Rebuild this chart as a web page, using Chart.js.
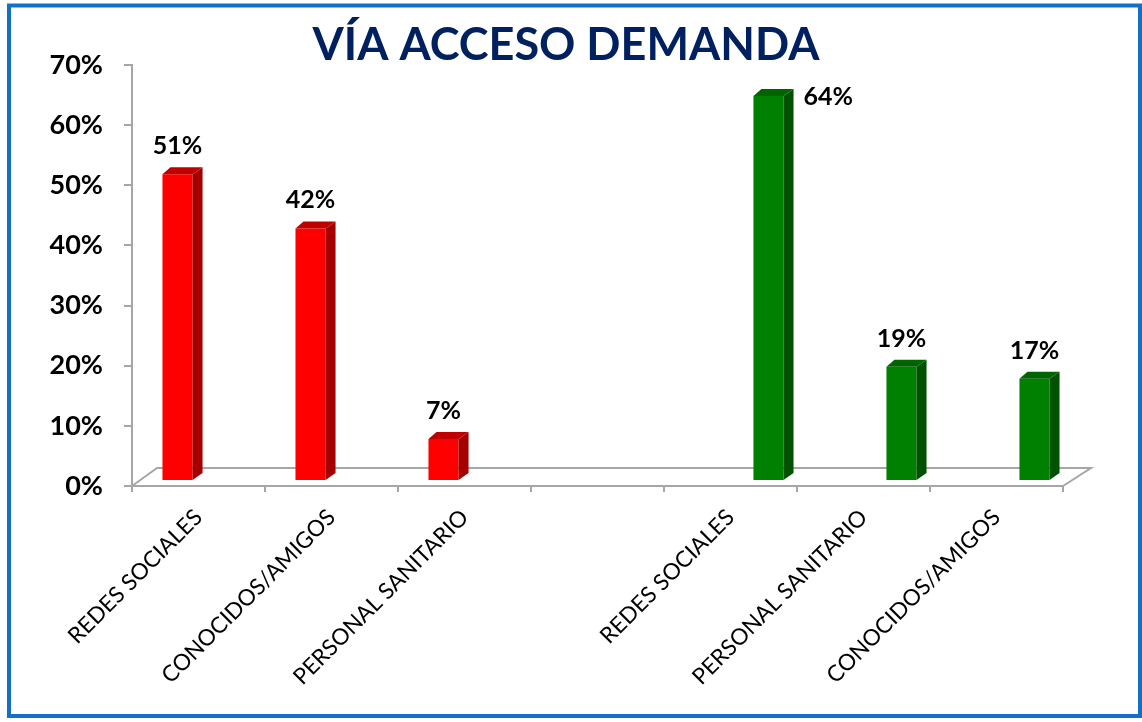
<!DOCTYPE html>
<html>
<head>
<meta charset="utf-8">
<script src="https://cdn.jsdelivr.net/npm/chart.js@4"></script>
<style>
  html, body { margin: 0; padding: 0; background: #fff; }
  #wrap { position: relative; width: 1142px; height: 722px; }
</style>
</head>
<body>
<div id="wrap"><canvas id="chart" width="1142" height="722"></canvas></div>
<script>
// Data
const categories = ["REDES SOCIALES", "CONOCIDOS/AMIGOS", "PERSONAL SANITARIO", "", "REDES SOCIALES", "PERSONAL SANITARIO", "CONOCIDOS/AMIGOS"];
const redValues = [0.51, 0.42, 0.07, null, null, null, null];
const greenValues = [null, null, null, null, 0.64, 0.19, 0.17];
const yTickValues = [0, 0.1, 0.2, 0.3, 0.4, 0.5, 0.6, 0.7];
const titleText = "VÍA ACCESO DEMANDA";

const AXIS_GRAY = "#A6A6A6";
const SHIFT_X = 8.5, SHIFT_Y = -5;   // bars sit a bit inside the floor
const DEPTH_X = 10, DEPTH_Y = 7;     // 3d depth of each bar

// Draws the floor, the 3d faces of bars, the value labels, title and frame
const fake3d = {
  id: "fake3d",
  beforeDatasetsDraw(chart) {
    const ctx = chart.ctx;
    const a = chart.chartArea;
    ctx.save();
    ctx.strokeStyle = AXIS_GRAY;
    ctx.lineWidth = 2;
    ctx.beginPath();
    ctx.moveTo(a.left, a.bottom);
    ctx.lineTo(a.left + 25, a.bottom - 18);
    ctx.lineTo(a.right + 28, a.bottom - 18);
    ctx.lineTo(a.right, a.bottom);
    ctx.stroke();
    ctx.restore();
    ctx.save();
    ctx.translate(SHIFT_X, SHIFT_Y);
  },
  afterDatasetsDraw(chart) {
    const ctx = chart.ctx;
    const a = chart.chartArea;
    chart.data.datasets.forEach((ds, i) => {
      const meta = chart.getDatasetMeta(i);
      meta.data.forEach((bar, j) => {
        const v = ds.data[j];
        if (v === null || v === undefined) return;
        const p = bar.getProps(["x", "y", "base", "width"], true);
        const l = p.x - p.width / 2, r = p.x + p.width / 2;
        // side face
        ctx.fillStyle = ds.sideColor;
        ctx.beginPath();
        ctx.moveTo(r, p.y);
        ctx.lineTo(r + DEPTH_X, p.y - DEPTH_Y);
        ctx.lineTo(r + DEPTH_X, p.base - DEPTH_Y);
        ctx.lineTo(r, p.base);
        ctx.closePath();
        ctx.fill();
        // top face
        ctx.fillStyle = ds.topColor;
        ctx.beginPath();
        ctx.moveTo(l, p.y);
        ctx.lineTo(l + DEPTH_X - 2, p.y - DEPTH_Y);
        ctx.lineTo(r + DEPTH_X, p.y - DEPTH_Y);
        ctx.lineTo(r, p.y);
        ctx.closePath();
        ctx.fill();
        // value label
        const txt = Math.round(v * 100) + "%";
        ctx.fillStyle = "#000";
        ctx.font = "bold 25px Lato";
        if (p.y + SHIFT_Y - 20 - 24 < a.top) {
          ctx.textAlign = "left";
          ctx.textBaseline = "middle";
          ctx.fillText(txt, r + DEPTH_X + 10, p.y + 1);
        } else {
          ctx.textAlign = "center";
          ctx.textBaseline = "alphabetic";
          ctx.fillText(txt, p.x, p.y - 20);
        }
      });
    });
    ctx.restore();
  },
  afterDraw(chart) {
    const ctx = chart.ctx;
    ctx.save();
    ctx.fillStyle = "#002060";
    ctx.font = "bold 45px Lato";
    ctx.textAlign = "center";
    ctx.textBaseline = "alphabetic";
    ctx.fillText(titleText, 566, 60);
    ctx.strokeStyle = "#1271C6";
    ctx.lineWidth = 4;
    ctx.strokeRect(9, 5.5, 1131, 710.5);
    ctx.restore();
  }
};

new Chart(document.getElementById("chart").getContext("2d"), {
  type: "bar",
  data: {
    labels: categories,
    datasets: [
      {
        label: "Serie 1",
        data: redValues,
        backgroundColor: "#FF0000",
        sideColor: "#A50000",
        topColor: "#C00000",
        categoryPercentage: 0.887,
        barPercentage: 0.51,
      },
      {
        label: "Serie 2",
        data: greenValues,
        backgroundColor: "#008000",
        sideColor: "#005200",
        topColor: "#006400",
        categoryPercentage: 0.887,
        barPercentage: 0.51,
      },
    ],
  },
  options: {
    responsive: false,
    animation: false,
    layout: { padding: { top: 65, right: 79, left: 0, bottom: 0 } },
    plugins: {
      legend: { display: false },
      tooltip: { enabled: false },
    },
    scales: {
      x: {
        afterFit: (s) => { s.height = 236; },
        grid: { drawOnChartArea: false, color: AXIS_GRAY, lineWidth: 2, tickLength: 6 },
        border: { color: AXIS_GRAY, width: 2 },
        ticks: {
          autoSkip: false,
          minRotation: 45,
          maxRotation: 45,
          padding: 12,
          color: "#000",
          font: { family: "Lato", size: 22.5 },
        },
      },
      y: {
        min: 0,
        max: 0.7,
        afterFit: (s) => { s.width = 132; },
        afterBuildTicks: (s) => { s.ticks = yTickValues.map((v) => ({ value: v })); },
        grid: { drawOnChartArea: false, color: AXIS_GRAY, lineWidth: 2, tickLength: 8 },
        border: { color: AXIS_GRAY, width: 2 },
        ticks: {
          padding: 21,
          color: "#000",
          font: { family: "Lato", size: 27, weight: "bold" },
          callback: (v) => Math.round(v * 100) + "%",
        },
      },
    },
  },
  plugins: [fake3d],
});
</script>
</body>
</html>
